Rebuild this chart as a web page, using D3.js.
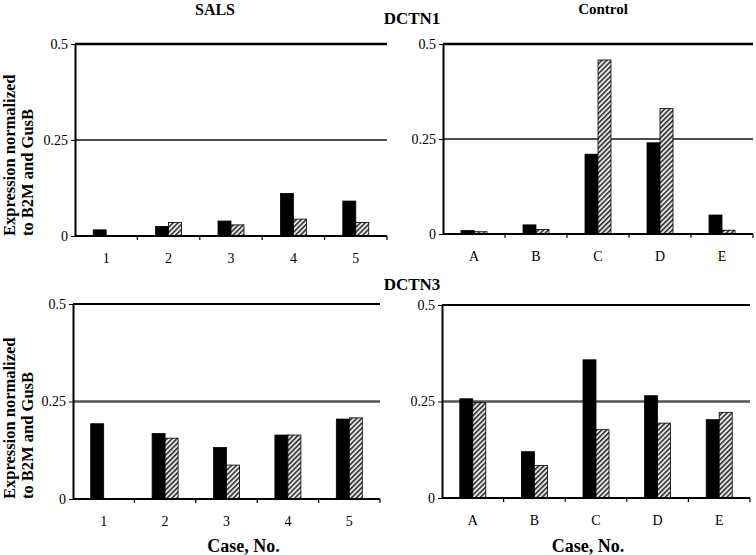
<!DOCTYPE html>
<html>
<head>
<meta charset="utf-8">
<script src="https://cdn.jsdelivr.net/npm/d3@7/dist/d3.min.js"></script>
<style>
  body { margin: 0; background: #fff; }
  svg text { font-family: "Liberation Serif", "Times New Roman", serif; }
</style>
</head>
<body>
<svg id="chart" width="756" height="555"></svg>
<script>
// categories
var salsCases = ["1", "2", "3", "4", "5"];
var controlCases = ["A", "B", "C", "D", "E"];
var yTicks = [0, 0.25, 0.5];
var yTickLabels = ["0", "0.25", "0.5"];

// DCTN1 values (solid, hatched)
var dctn1SalsSolid   = [0.016, 0.025, 0.039, 0.111, 0.091];
var dctn1SalsHatched = [0, 0.035, 0.029, 0.044, 0.035];
var dctn1CtrlSolid   = [0.009, 0.024, 0.210, 0.240, 0.050];
var dctn1CtrlHatched = [0.006, 0.012, 0.458, 0.330, 0.010];

// DCTN3 values
var dctn3SalsSolid   = [0.193, 0.168, 0.132, 0.164, 0.205];
var dctn3SalsHatched = [0, 0.156, 0.087, 0.164, 0.208];
var dctn3CtrlSolid   = [0.257, 0.120, 0.358, 0.265, 0.203];
var dctn3CtrlHatched = [0.247, 0.084, 0.177, 0.194, 0.222];

var serif = '"Liberation Serif", "Times New Roman", serif';
var svg = d3.select("#chart");

// hatch pattern
var defs = svg.append("defs");
var pat = defs.append("pattern")
  .attr("id", "hatch")
  .attr("patternUnits", "userSpaceOnUse")
  .attr("width", 3.5).attr("height", 3.5)
  .attr("patternTransform", "rotate(45)");
pat.append("rect").attr("width", 3.5).attr("height", 3.5).attr("fill", "#e6e6e6");
pat.append("rect").attr("width", 1.6).attr("height", 3.5).attr("fill", "#333");

var panels = [
  { cats: salsCases, solid: dctn1SalsSolid, hatched: dctn1SalsHatched,
    left: 75, right: 387, top: 44, bottom: 236, topW: 2.6, midW: 1.6, midC: "#111", xlabel: false },
  { cats: controlCases, solid: dctn1CtrlSolid, hatched: dctn1CtrlHatched,
    left: 443, right: 753, top: 44, bottom: 234, topW: 2.6, midW: 1.6, midC: "#111", xlabel: false },
  { cats: salsCases, solid: dctn3SalsSolid, hatched: dctn3SalsHatched,
    left: 73, right: 380, top: 304, bottom: 499, topW: 2, midW: 2.6, midC: "#555", xlabel: true },
  { cats: controlCases, solid: dctn3CtrlSolid, hatched: dctn3CtrlHatched,
    left: 442, right: 750, top: 305, bottom: 498, topW: 2, midW: 2.6, midC: "#555", xlabel: true }
];

panels.forEach(function(p, pi) {
  var g = svg.append("g");

  var x0 = d3.scaleBand().domain(p.cats).range([p.left, p.right]).padding(0);
  var bw = x0.bandwidth();
  var x1 = d3.scaleBand().domain(["solid", "hatched"]).range([bw / 2 - 13, bw / 2 + 13]);
  var y = d3.scaleLinear().domain([0, 0.5]).range([p.bottom, p.top]);

  // grid lines
  g.append("line")
    .attr("x1", p.left).attr("x2", p.right)
    .attr("y1", y(0.5)).attr("y2", y(0.5))
    .attr("stroke", "#000").attr("stroke-width", p.topW);
  g.append("line")
    .attr("x1", p.left).attr("x2", p.right)
    .attr("y1", y(0.25)).attr("y2", y(0.25))
    .attr("stroke", p.midC).attr("stroke-width", p.midW);

  var rows = p.cats.map(function(c, i) {
    return { cat: c, solid: p.solid[i], hatched: p.hatched[i] };
  });

  var grp = g.selectAll("g.cat").data(rows).enter().append("g")
    .attr("class", "cat")
    .attr("transform", d => "translate(" + x0(d.cat) + ",0)");

  grp.selectAll("rect")
    .data(d => [{ k: "solid", v: d.solid }, { k: "hatched", v: d.hatched }].filter(e => e.v > 0))
    .enter().append("rect")
    .attr("x", d => x1(d.k))
    .attr("y", d => y(d.v))
    .attr("width", x1.bandwidth())
    .attr("height", d => y(0) - y(d.v))
    .attr("fill", d => d.k == "solid" ? "#000" : "url(#hatch)")
    .attr("stroke", "#000")
    .attr("stroke-width", 0.8);

  // y axis
  var yAxis = g.append("g")
    .attr("transform", "translate(" + p.left + ",0)")
    .call(d3.axisLeft(y).tickValues(yTicks)
      .tickFormat((d, i) => yTickLabels[i]).tickSize(4).tickSizeOuter(0).tickPadding(3));
  yAxis.attr("font-family", serif);
  yAxis.select(".domain").attr("stroke-width", 2);
  yAxis.selectAll("text").style("font-size", "14px").attr("fill", "#000");

  // x axis
  var xAxis = g.append("g")
    .attr("transform", "translate(0," + y(0) + ")")
    .call(d3.axisBottom(x0).tickSize(0).tickPadding(17));
  xAxis.attr("font-family", serif);
  xAxis.select(".domain").attr("stroke-width", 2).attr("d", "M" + p.left + ",0H" + p.right);
  xAxis.selectAll("text").style("font-size", "14px").attr("fill", "#000");

  // boundary tick marks
  xAxis.selectAll("line.bt")
    .data(p.cats)
    .enter().append("line")
    .attr("class", "bt")
    .attr("x1", d => x0(d) + bw).attr("x2", d => x0(d) + bw)
    .attr("y1", 0).attr("y2", 4)
    .attr("stroke", "#000").attr("stroke-width", 1.2);

  // y label on left panels
  if (pi % 2 == 0) {
    var yl = g.append("text")
      .attr("transform", "translate(15," + y(0) + ") rotate(-90)")
      .style("font-family", serif)
      .style("font-size", "16.5px").style("font-weight", "bold");
    yl.append("tspan").attr("x", 0).attr("y", 0).text("Expression normalized");
    yl.append("tspan").attr("x", 0).attr("y", 18).text("to B2M and GusB");
  }

  if (p.xlabel) {
    g.append("text")
      .attr("x", (p.left + p.right) / 2 + (pi == 2 ? 17 : -8))
      .attr("y", 552)
      .attr("text-anchor", "middle")
      .style("font-family", serif)
      .style("font-size", "18px").style("font-weight", "bold")
      .text("Case, No.");
  }
});

// titles
function title(txt, x, y, size) {
  svg.append("text").attr("x", x).attr("y", y)
    .attr("text-anchor", "middle")
    .style("font-family", serif)
    .style("font-size", size).style("font-weight", "bold")
    .text(txt);
}
title("SALS", 215, 15, "16px");
title("Control", 603, 14, "15px");
title("DCTN1", 412, 24, "17px");
title("DCTN3", 412, 290, "17px");
</script>
</body>
</html>
